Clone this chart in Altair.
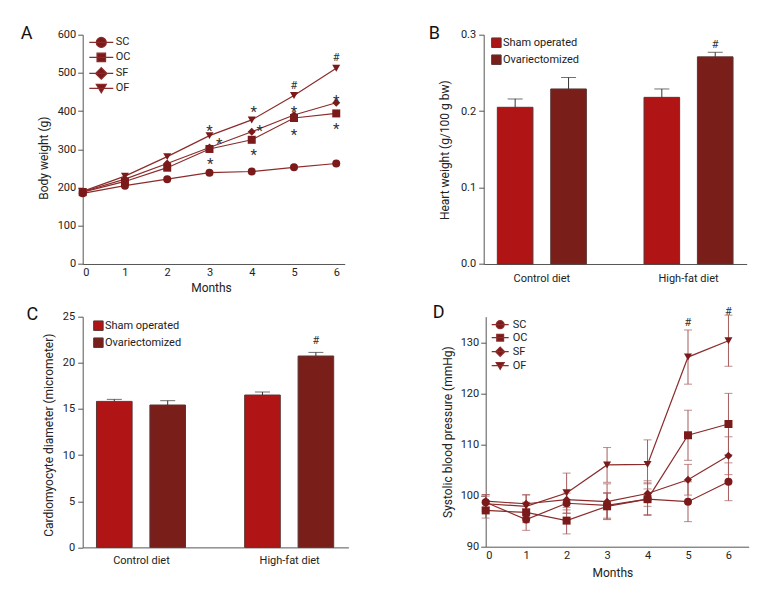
import altair as alt
import pandas as pd

FONT = "Roboto"

RED = "#B01414"
BROWN = "#7A1E1A"
LINE = "#8B2B2B"
MARK = "#7B1A1A"
ERR = "#A65A5A"
BARSTROKE = "#5A3535"
AXIS = "#555555"
TEXT = "#222222"

# ---------------- data ----------------
months = [0, 1, 2, 3, 4, 5, 6]
groups = ["SC", "OC", "SF", "OF"]

# Panel A: body weight (g)
bw_SC = [185, 205, 222, 239, 242, 253, 263]
bw_OC = [188, 216, 252, 301, 325, 382, 394]
bw_SF = [189, 222, 263, 305, 346, 390, 422]
bw_OF = [190, 230, 281, 336, 377, 441, 512]
a_star_month = [3, 3.23, 3.02, 4.05, 4.19, 4.05, 5, 5, 6, 6]
a_star_value = [359, 325, 272, 408, 358, 296, 407, 347, 438, 364]
a_hash_month = [5, 6]
a_hash_value = [467, 538]

# Panels B and C: bars
diets = ["Control diet", "High-fat diet"]
surgery = ["Sham operated", "Ovariectomized"]
hw_sham = [0.205, 0.218]
hw_sham_err = [0.011, 0.011]
hw_ovx = [0.229, 0.271]
hw_ovx_err = [0.015, 0.006]
hw_hash = [0.287]

cd_sham = [15.82, 16.51]
cd_sham_err = [0.22, 0.33]
cd_ovx = [15.43, 20.74]
cd_ovx_err = [0.47, 0.39]
cd_hash = [22.4]

# Panel D: systolic blood pressure (mmHg)
sbp_SC = [98.7, 95.3, 98.5, 98.1, 99.3, 98.8, 102.7]
sbp_SC_err = [1.5, 2.1, 2.0, 2.5, 3.0, 3.9, 3.7]
sbp_OC = [97.1, 96.7, 95.1, 97.9, 99.3, 111.8, 114.0]
sbp_OC_err = [1.5, 2.0, 2.6, 2.5, 3.2, 4.9, 6.0]
sbp_SF = [98.9, 98.4, 99.2, 98.8, 100.4, 103.1, 107.8]
sbp_SF_err = [1.3, 1.7, 2.0, 3.5, 2.5, 3.0, 3.7]
sbp_OF = [98.4, 97.9, 100.5, 106.0, 106.1, 127.1, 130.3]
sbp_OF_err = [1.5, 2.3, 3.9, 3.4, 4.8, 5.3, 5.0]
d_hash_month = [5, 6]
d_hash_value = [133.7, 135.9]


def fmt(v):
    return f"{v:.3f}".rstrip("0").rstrip(".")


def legend_paths(L, r):
    line = f"M{fmt(-L)},0H{fmt(L)}"
    s = r * 0.85
    d = r * 1.15
    circle = f"{line}M{fmt(r)},0A{fmt(r)},{fmt(r)} 0 1 1 {fmt(-r)},0A{fmt(r)},{fmt(r)} 0 1 1 {fmt(r)},0Z"
    square = f"{line}M{fmt(-s)},{fmt(-s)}H{fmt(s)}V{fmt(s)}H{fmt(-s)}Z"
    diamond = f"{line}M0,{fmt(-d)}L{fmt(d)},0L0,{fmt(d)}L{fmt(-d)},0Z"
    tri = f"{line}M{fmt(-r)},{fmt(-r*0.8)}L{fmt(r)},{fmt(-r*0.8)}L0,{fmt(r*0.9)}Z"
    return [circle, square, diamond, tri]


def letter(t, x, y):
    return alt.Chart(pd.DataFrame({"t": [t]})).mark_text(
        fontSize=18, align="left", baseline="top", font=FONT, fill="#111111"
    ).encode(text="t:N", x=alt.value(x), y=alt.value(y))


def line_panel(series, errs, xdom, ydom, yvals, yfmt, ytitle, titleX, titleY,
               xtitleX, xtitleY, w, h, paths, legX, legY, labOff, stars, hashes, let):
    rows = []
    for gi, g in enumerate(groups):
        for mi, m in enumerate(months):
            v = series[gi][mi]
            e = errs[gi][mi] if errs else 0
            rows.append({"month": m, "group": g, "value": v, "lo": v - e, "hi": v + e})
    df = pd.DataFrame(rows)
    xaxis = alt.Axis(values=months, format="d", ticks=False, tickSize=0, labelPadding=3,
                     title="Months", titleX=xtitleX, titleY=xtitleY, titleBaseline="top")
    yaxis = alt.Axis(values=yvals, format=yfmt, tickSize=5, labelPadding=2,
                     title=ytitle, titleX=titleX, titleY=titleY)
    xs = alt.Scale(domain=xdom, nice=False, zero=False)
    ys = alt.Scale(domain=ydom, nice=False, zero=False)

    def X(f="month"):
        return alt.X(f"{f}:Q", scale=xs, axis=xaxis)

    def Y(f):
        return alt.Y(f"{f}:Q", scale=ys, axis=yaxis)

    base = alt.Chart(df)
    layers = []
    if errs:
        layers.append(base.mark_rule(color=ERR, strokeWidth=1).encode(x=X(), y=Y("lo"), y2="hi:Q"))
        layers.append(base.mark_tick(color=ERR, size=8, thickness=1, orient="horizontal").encode(x=X(), y=Y("lo")))
        layers.append(base.mark_tick(color=ERR, size=8, thickness=1, orient="horizontal").encode(x=X(), y=Y("hi")))
    layers.append(base.mark_line(color=LINE, strokeWidth=1.2).encode(x=X(), y=Y("value"), detail="group:N"))
    layers.append(base.mark_point(filled=True, color=MARK, opacity=1, size=64).encode(
        x=X(), y=Y("value"),
        shape=alt.Shape("group:N", scale=alt.Scale(domain=groups, range=["circle", "square", "diamond", "triangle-down"]), legend=None)))
    layers.append(base.mark_point(filled=True, fill=MARK, stroke=LINE, strokeWidth=1.2, opacity=0, size=121).encode(
        x=X(), y=Y("value"),
        shape=alt.Shape("group:N", scale=alt.Scale(domain=groups, range=paths),
                        legend=alt.Legend(title=None, orient="none", legendX=legX, legendY=legY,
                                          symbolSize=121, symbolStrokeWidth=1.2,
                                          symbolOpacity=1, labelOffset=labOff,
                                          rowPadding=0, padding=0, labelFont=FONT, labelFontSize=11,
                                          labelColor=TEXT))))
    if stars:
        sdf = pd.DataFrame({"month": stars[0], "value": stars[1]})
        layers.append(alt.Chart(sdf).mark_text(fontSize=15, dy=4, font=FONT).encode(
            x=X(), y=Y("value"), text=alt.value("*"), color=alt.value("#333333")))
    hdf = pd.DataFrame({"month": hashes[0], "value": hashes[1]})
    layers.append(alt.Chart(hdf).mark_text(fontSize=11, font=FONT).encode(
        x=X(), y=Y("value"), text=alt.value("#"), color=alt.value("#333333")))
    layers.append(let)
    return alt.layer(*layers).resolve_scale(shape="independent").properties(width=w, height=h)


def bar_panel(sham, sham_err, ovx, ovx_err, hashv, ydom, yvals, yfmt, ytitle, titleX, titleY,
              labelPad, w, h, legX, legY, let):
    rows = []
    for di, d in enumerate(diets):
        rows.append({"diet": d, "surgery": surgery[0], "value": sham[di], "hi": sham[di] + sham_err[di]})
        rows.append({"diet": d, "surgery": surgery[1], "value": ovx[di], "hi": ovx[di] + ovx_err[di]})
    df = pd.DataFrame(rows)
    xaxis = alt.Axis(title=None, labelAngle=0, ticks=False, tickSize=0, labelPadding=labelPad)
    xs = alt.Scale(domain=diets, paddingInner=0.393, paddingOuter=0.093)
    xo = alt.XOffset("surgery:N", scale=alt.Scale(domain=surgery, paddingInner=0.333, paddingOuter=0))
    yaxis = alt.Axis(values=yvals, format=yfmt, tickSize=5, labelPadding=3,
                     title=ytitle, titleX=titleX, titleY=titleY)
    ys = alt.Scale(domain=ydom, nice=False, zero=True)
    X = alt.X("diet:N", scale=xs, axis=xaxis)

    def Y(f):
        return alt.Y(f"{f}:Q", scale=ys, axis=yaxis)

    base = alt.Chart(df)
    bars = base.mark_bar(stroke=BARSTROKE, strokeWidth=1).encode(
        x=X, xOffset=xo, y=Y("value"),
        color=alt.Color("surgery:N", scale=alt.Scale(domain=surgery, range=[RED, BROWN]),
                        legend=alt.Legend(title=None, orient="none", legendX=legX, legendY=legY,
                                          symbolType="square", symbolSize=90,
                                          symbolStrokeColor=BARSTROKE, symbolStrokeWidth=1,
                                          symbolOpacity=1, labelOffset=1, rowPadding=2, padding=0,
                                          labelFont=FONT, labelFontSize=11, labelColor=TEXT)))
    rule = base.mark_rule(color="#333333", strokeWidth=1).encode(x=X, xOffset=xo, y=Y("value"), y2="hi:Q")
    cap = base.mark_tick(color="#333333", size=15, thickness=1, orient="horizontal").encode(x=X, xOffset=xo, y=Y("hi"))
    hdf = pd.DataFrame({"diet": [diets[1]], "surgery": [surgery[1]], "value": hashv})
    hsh = alt.Chart(hdf).mark_text(fontSize=11, font=FONT).encode(
        x=X, xOffset=xo, y=Y("value"), text=alt.value("#"), color=alt.value("#333333"))
    return alt.layer(bars, rule, cap, hsh, let).properties(width=w, height=h)


A = line_panel([bw_SC, bw_OC, bw_SF, bw_OF], None, [0, 6.2], [0, 600],
               [0, 100, 200, 300, 400, 500, 600], "d", "Body weight (g)", -32.7, 123,
               128.3, 19, 262, 229.3, legend_paths(2.18, 0.91), 12.1, 1.2, 8,
               (a_star_month, a_star_value), (a_hash_month, a_hash_value),
               letter("A", -62, -9.3))

B = bar_panel(hw_sham, hw_sham_err, hw_ovx, hw_ovx_err, hw_hash, [0, 0.3], [0, 0.1, 0.2, 0.3], ".1f",
              "Heart weight (g/100 g bw)", -31.7, 115, 8.6, 263, 229.3, 7.2, 2.5,
              letter("B", -55, -9.3))

C = bar_panel(cd_sham, cd_sham_err, cd_ovx, cd_ovx_err, cd_hash, [0, 25], [0, 5, 10, 15, 20, 25], "d",
              "Cardiomyocyte diameter (micrometer)", -27.3, 118, 7.5, 265.7, 230.7, 10.2, 3.5,
              letter("C", -56.3, -10.6))

D = line_panel([sbp_SC, sbp_OC, sbp_SF, sbp_OF], [sbp_SC_err, sbp_OC_err, sbp_SF_err, sbp_OF_err],
               [0, 6.5], [90, 135], [90, 100, 110, 120, 130], "d", "Systolic blood pressure (mmHg)",
               -31.3, 115, 126.7, 20.4, 263, 230, legend_paths(1.545, 0.73), 8, 1.5, 6,
               None, (d_hash_month, d_hash_value), letter("D", -53, -12.5))

row1 = alt.hconcat(A, B, spacing=80).resolve_scale(
    color="independent", shape="independent").resolve_legend(color="independent", shape="independent")
row2 = alt.hconcat(C, D, spacing=84).resolve_scale(
    color="independent", shape="independent").resolve_legend(color="independent", shape="independent")

chart = alt.vconcat(row1, row2, spacing=9).resolve_scale(
    color="independent", shape="independent").resolve_legend(
    color="independent", shape="independent").properties(
    padding={"left": 12.7, "top": 16.7, "right": 5, "bottom": 5}
).configure_axis(
    domainColor=AXIS, tickColor=AXIS, labelColor=TEXT, titleColor=TEXT,
    labelFont=FONT, titleFont=FONT, labelFontSize=11, titleFontSize=12,
    titleFontWeight="normal", grid=False, domainWidth=1, tickWidth=1
).configure_view(stroke=None).configure_text(font=FONT)

chart.save("out.html", embed_options={"renderer": "svg", "actions": False})
